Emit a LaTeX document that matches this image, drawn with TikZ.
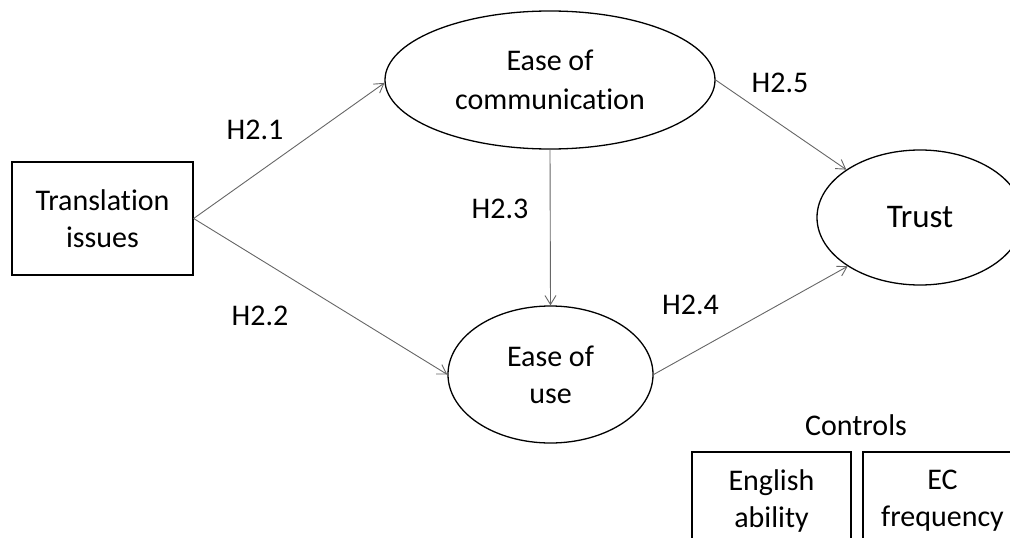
\documentclass[tikz,border=0pt]{standalone}
\usepackage{fontspec}
\setmainfont{Carlito}[Ligatures=NoCommon]
\usetikzlibrary{shapes.geometric,arrows.meta}
\begin{document}
\begin{tikzpicture}[x=1pt,y=-1pt,
  every node/.style={font=\fontsize{30}{37}\selectfont, align=center, inner sep=0pt},
  boxnode/.style={draw=black, line width=1.3pt, rectangle},
  ellnode/.style={draw=black, line width=1.3pt, ellipse},
  conn/.style={draw=black!60, line width=0.9pt, -{Straight Barb[length=9pt,width=11pt]}}]
\clip (0,0) rectangle (1010,538);
% nodes
\node[boxnode, minimum width=181pt, minimum height=113pt] (trans) at (102.5,218.5) {Translation\\issues};
\node[ellnode, minimum width=330pt, minimum height=138pt, font=\fontsize{30}{39}\selectfont] (eoc) at (550,80) {Ease of\\communication};
\node[ellnode, minimum width=205pt, minimum height=137pt] (eou) at (550.5,374.5) {Ease of\\use};
\node[ellnode, minimum width=206pt, minimum height=135pt, font=\fontsize{33}{40}\selectfont] (trust) at (920,217.5) {Trust};
\node (controls) at (856,425) {Controls};
\node[boxnode, minimum width=159pt, minimum height=97pt] (eng) at (771.5,500.5) {English\\ability};
\node[boxnode, minimum width=159pt, minimum height=97pt] (ecf) at (942.5,500.5) {EC\\frequency};
% labels
\node (h21) at (255,129.5) {H2.1};
\node (h22) at (260,315.5) {H2.2};
\node (h23) at (500,208.5) {H2.3};
\node (h24) at (690.5,304.5) {H2.4};
\node (h25) at (780,83) {H2.5};
% connectors
\draw[conn] (trans.east) -- (eoc.181);
\draw[conn] (trans.east) -- (eou.west);
\draw[conn] (eoc.south) -- (eou.north);
\draw[conn] (eoc.east) -- (trust.147);
\draw[conn] (eou.east) -- (trust.214);
\end{tikzpicture}
\end{document}
